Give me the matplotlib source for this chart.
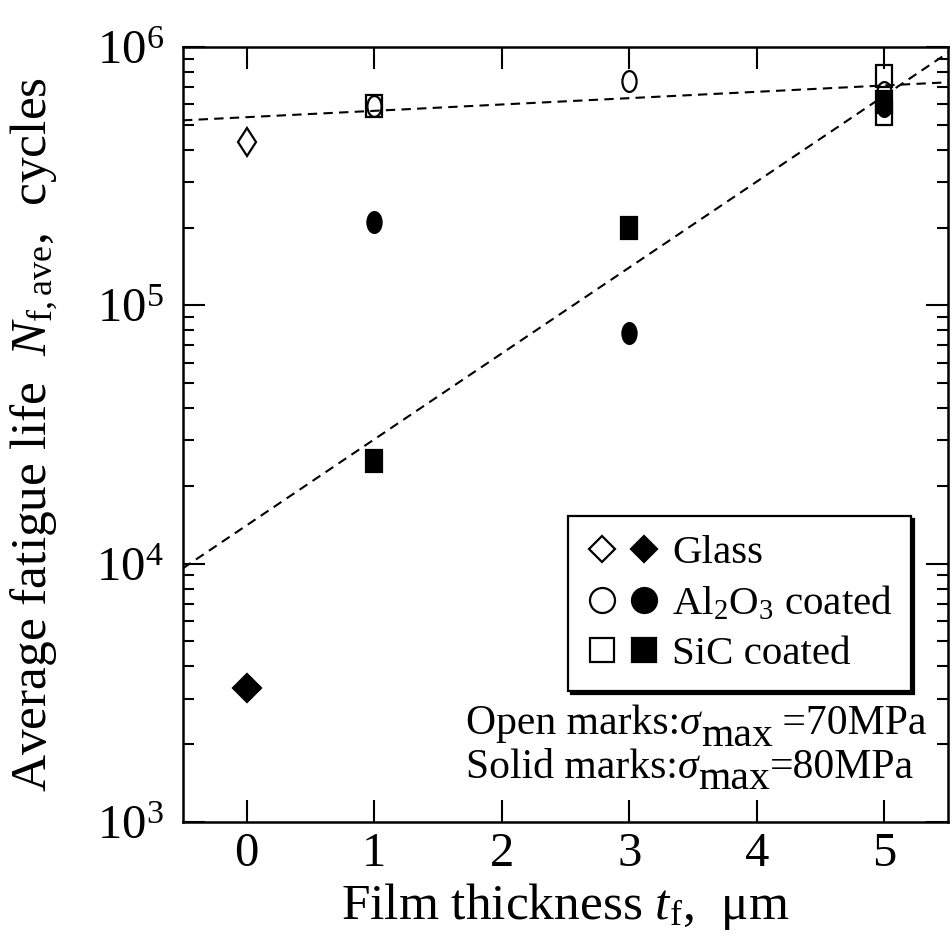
import numpy as np
import matplotlib
matplotlib.use('Agg')
import matplotlib.pyplot as plt
from matplotlib.markers import MarkerStyle
from matplotlib.transforms import Affine2D
from matplotlib.legend_handler import HandlerTuple
from matplotlib.lines import Line2D

plt.rcParams['font.family'] = ['Liberation Serif', 'DejaVu Serif']
plt.rcParams['mathtext.fontset'] = 'custom'
plt.rcParams['mathtext.rm'] = 'Liberation Serif'
plt.rcParams['mathtext.it'] = 'Liberation Serif:italic'
plt.rcParams['mathtext.bf'] = 'Liberation Serif:bold'

# data
glass_open_t = [0]
glass_open_n = [4.3e5]
glass_solid_t = [0]
glass_solid_n = [3.3e3]
al_open_t = [1, 3, 5]
al_open_n = [5.9e5, 7.4e5, 6.7e5]
al_solid_t = [1, 3, 5]
al_solid_n = [2.1e5, 7.8e4, 5.9e5]
sic_open_t = [1, 5, 5]
sic_open_n = [5.9e5, 7.7e5, 5.5e5]
sic_solid_t = [1, 3, 5]
sic_solid_n = [2.5e4, 2.0e5, 6.1e5]
fit_t = [-0.5, 5.5]
fit_open_n = [5.2e5, 7.3e5]
fit_solid_n = [9.6e3, 9.5e5]

fig = plt.figure(figsize=(9.52, 9.49), dpi=100)
ax = fig.add_axes([0.1922, 0.1338, 0.8036, 0.8167])

# markers in the figure look stretched vertically
stretch = Affine2D().scale(0.68, 1.0)
def mk(m, tr=True):
    return MarkerStyle(m, transform=stretch) if tr else MarkerStyle(m)

ax.plot(fit_t, fit_open_n, color='k', lw=1.5, ls=(0, (4.5, 3)))
ax.plot(fit_t, fit_solid_n, color='k', lw=1.5, ls=(0, (4.5, 3)))

ms = 15
mew = 1.6
ax.plot(glass_open_t, glass_open_n, ls='none', marker=mk('D'), ms=14, mfc='none', mec='k', mew=mew)
ax.plot(glass_solid_t, glass_solid_n, ls='none', marker=mk('D', False), ms=14, mfc='k', mec='k', mew=mew)
ax.plot(al_open_t, al_open_n, ls='none', marker=mk('o'), ms=ms, mfc='none', mec='k', mew=mew)
ax.plot(al_solid_t, al_solid_n, ls='none', marker=mk('o'), ms=ms, mfc='k', mec='k', mew=mew)
ax.plot(sic_open_t, sic_open_n, ls='none', marker=mk('s'), ms=ms + 1, mfc='none', mec='k', mew=mew)
ax.plot(sic_solid_t, sic_solid_n, ls='none', marker=mk('s'), ms=ms + 1, mfc='k', mec='k', mew=mew)

ax.set_yscale('log')
ax.set_xlim(-0.5, 5.5)
ax.set_ylim(1e3, 1e6)
ax.set_xticks([0, 1, 2, 3, 4, 5])

ax.tick_params(which='both', direction='in', top=True, right=True, width=1.5)
ax.tick_params(which='major', length=16, labelsize=35)
ax.tick_params(which='minor', length=8)
ax.tick_params(axis='y', which='major', pad=14)
ax.tick_params(axis='x', which='major', pad=7)
ax.minorticks_on()
ax.xaxis.set_minor_locator(matplotlib.ticker.NullLocator())
for s in ax.spines.values():
    s.set_linewidth(1.8)

ax.set_xlabel(r'Film thickness $t_{\rm f}$,  μm', fontsize=37, labelpad=4)
ax.set_ylabel(r'Average fatigue life  $N_{\rm f,ave}$,  cycles', fontsize=37, labelpad=26)

lms = 18
h_glass = (Line2D([], [], ls='none', marker='D', ms=13, mfc='none', mec='k', mew=mew),
           Line2D([], [], ls='none', marker='D', ms=13, mfc='k', mec='k', mew=mew))
h_al = (Line2D([], [], ls='none', marker='o', ms=lms, mfc='none', mec='k', mew=mew),
        Line2D([], [], ls='none', marker='o', ms=lms, mfc='k', mec='k', mew=mew))
h_sic = (Line2D([], [], ls='none', marker='s', ms=lms - 1, mfc='none', mec='k', mew=mew),
         Line2D([], [], ls='none', marker='s', ms=lms - 1, mfc='k', mec='k', mew=mew))
leg = ax.legend([h_glass, h_al, h_sic], ['Glass', r'Al$_2$O$_3$ coated', 'SiC coated'],
                handler_map={tuple: HandlerTuple(ndivide=None, pad=0.25)},
                loc='upper left', bbox_to_anchor=(0.503, 0.395), borderaxespad=0,
                fontsize=29.5, fancybox=False, framealpha=1, edgecolor='k',
                shadow={'color': 'k', 'alpha': 1}, handlelength=1.8, handletextpad=0.3,
                labelspacing=0.3, borderpad=0.45)
leg.get_frame().set_linewidth(1.6)

# annotation built from pieces so the subscript can stay large
def note(y, pieces):
    prev = ax.text(0.370, y, pieces[0][0], transform=ax.transAxes,
                   fontsize=30, ha='left', va='baseline')
    for s, style, dy in pieces[1:]:
        prev = ax.annotate(s, xy=(1, 0), xycoords=prev, xytext=(0, dy),
                           textcoords='offset points', fontsize=30,
                           fontstyle=style, ha='left', va='bottom')

note(0.113, [('Open marks:', 'normal', 0), ('σ', 'italic', 0),
             ('max', 'normal', -8), (' =70MPa', 'normal', 8)])
note(0.057, [('Solid marks:', 'normal', 0), ('σ', 'italic', 0),
             ('max', 'normal', -8), ('=80MPa', 'normal', 8)])

fig.savefig('out.png', dpi=100)
